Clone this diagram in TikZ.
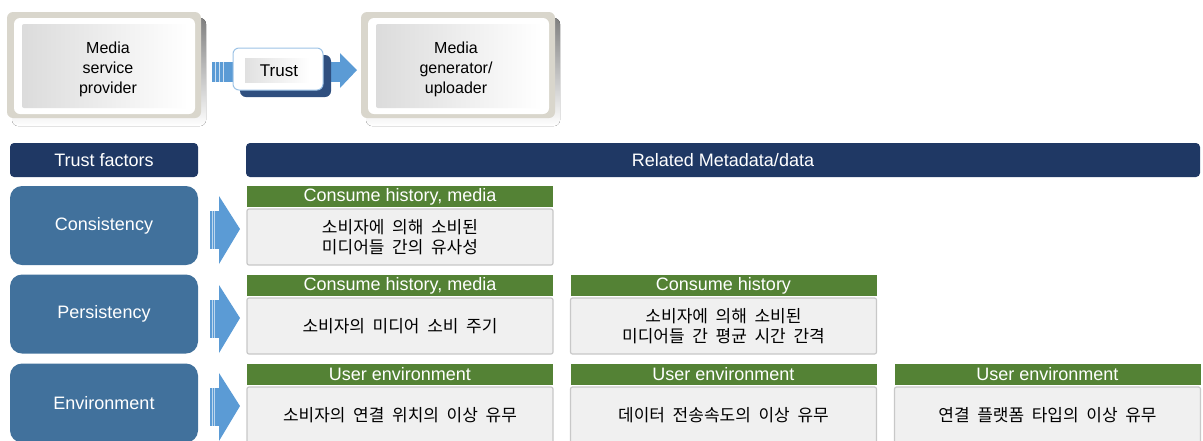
\documentclass[tikz,border=0pt]{standalone}
\usepackage{fontspec}
\setmainfont{Liberation Sans}
\newfontfamily\kr{Noto Sans CJK KR}
\newcommand\krcell{\kr\fontsize{17}{19.5}\selectfont\spaceskip=0.45em\relax}
\definecolor{navy}{HTML}{1F3864}
\definecolor{steel}{HTML}{41719C}
\definecolor{grn}{HTML}{548235}
\definecolor{arr}{HTML}{5B9BD5}
\definecolor{cellfill}{HTML}{F0F0F0}
\definecolor{cellline}{HTML}{C8C8C8}
\definecolor{framec}{HTML}{D9D6CC}
\definecolor{shade}{HTML}{2A2A2A}
\definecolor{trustsh}{HTML}{2F4F7F}
\begin{document}
\begin{tikzpicture}[x=1pt,y=-1pt,
  hdr/.style={fill=navy, rounded corners=4pt, text=white, minimum height=34pt, inner sep=0pt, font=\fontsize{18}{20}\selectfont},
  factor/.style={fill=steel, rounded corners=12pt, text=white, minimum width=188pt, minimum height=79pt, inner sep=0pt, font=\fontsize{18}{20}\selectfont},
  tag/.style={fill=grn, text=white, minimum width=306pt, minimum height=21pt, inner sep=0pt, font=\fontsize{18}{20}\selectfont},
  cell/.style={draw=cellline, line width=1.2pt, fill=cellfill, rounded corners=2pt, minimum width=306pt, minimum height=56pt, inner sep=0pt, align=center, font=\krcell},
  topbox/.style={fill=framec, rounded corners=6pt, minimum width=194pt, minimum height=106pt, inner sep=0pt},
  toptext/.style={align=center, font=\fontsize{16}{20}\selectfont, text=black},
]
\useasboundingbox (0,0) rectangle (1203,440);

% ---------- top: media service provider -> trust -> media generator ----------
\fill[shade, rounded corners=6pt] (12,18) rectangle (206,126);
\node[topbox] (msp) at (104,65) {};
\fill[white, rounded corners=6pt] (14,18) rectangle (195,114);
\shade[left color=black!14, right color=white, rounded corners=2pt] (22,24) rectangle (188,108);
\node[toptext] (msptext) at (108,69) {Media\\service\\provider};

\fill[shade, rounded corners=6pt] (366,18) rectangle (560,126);
\node[topbox] (mgu) at (458,65) {};
\fill[white, rounded corners=6pt] (368,18) rectangle (549,114);
\shade[left color=black!14, right color=white, rounded corners=2pt] (376,24) rectangle (542,108);
\node[toptext] (mgutext) at (456,69) {Media\\generator/\\uploader};

% trust arrow
\coordinate (tstart) at (212,72);
\coordinate (ttip) at (357,70);
\fill[arr] (212,62) rectangle (342,82);
\fill[arr] (340,53) -- (ttip) -- (340,88) -- cycle;
\foreach \xx in {215,219,223} \draw[white!70!arr, line width=0.8pt] (\xx,62) -- (\xx,82);
\fill[trustsh, rounded corners=6pt] (240,55) rectangle (331,97);
\node[draw=arr!60, line width=1pt, fill=white, rounded corners=6pt, minimum width=90pt, minimum height=42pt, inner sep=0pt] (trustbox) at (278,69) {};
\shade[left color=black!12, right color=white] (245,58) rectangle (310,82);
\node[font=\fontsize{17}{19}\selectfont] (trust) at (279,71) {Trust};

% ---------- headers ----------
\node[hdr, minimum width=188pt] (tf) at (104,160) {Trust factors};
\node[hdr, minimum width=954pt] (rm) at (723,160) {Related Metadata/data};

% ---------- factor boxes ----------
\node[factor] (cons) at (104,225.5) {Consistency};
\node[factor] (pers) at (104,314) {Persistency};
\node[factor] (env) at (104,403) {Environment};

% ---------- arrows ----------
\foreach \yy/\nm in {229/a1,318/a2,406/a3}{
  \coordinate (\nm) at (240,\yy);
  \fill[arr] (210,\yy-18) rectangle (220,\yy+20);
  \foreach \xx in {212,214.5} \draw[white!60!arr, line width=0.7pt] (\xx,\yy-18) -- (\xx,\yy+20);
  \fill[arr] (219,\yy-33) -- (\nm) -- (219,\yy+35) -- cycle;
}

% ---------- row 1 ----------
\node[tag] (t11) at (400,196.5) {Consume history, media};
\node[cell] (c11) at (400,237) {소비자에 의해 소비된\\미디어들 간의 유사성};

% ---------- row 2 ----------
\node[tag] (t21) at (400,285.5) {Consume history, media};
\node[cell] (c21) at (400,326) {소비자의 미디어 소비 주기};
\node[tag] (t22) at (723.5,285.5) {Consume history};
\node[cell] (c22) at (723.5,326) {소비자에 의해 소비된\\미디어들 간 평균 시간 간격};

% ---------- row 3 ----------
\node[tag] (t31) at (400,374.5) {User environment};
\node[cell] (c31) at (400,415) {소비자의 연결 위치의 이상 유무};
\node[tag] (t32) at (723.5,374.5) {User environment};
\node[cell] (c32) at (723.5,415) {데이터 전송속도의 이상 유무};
\node[tag] (t33) at (1047.5,374.5) {User environment};
\node[cell] (c33) at (1047.5,415) {연결 플랫폼 타입의 이상 유무};
\end{tikzpicture}
\end{document}
